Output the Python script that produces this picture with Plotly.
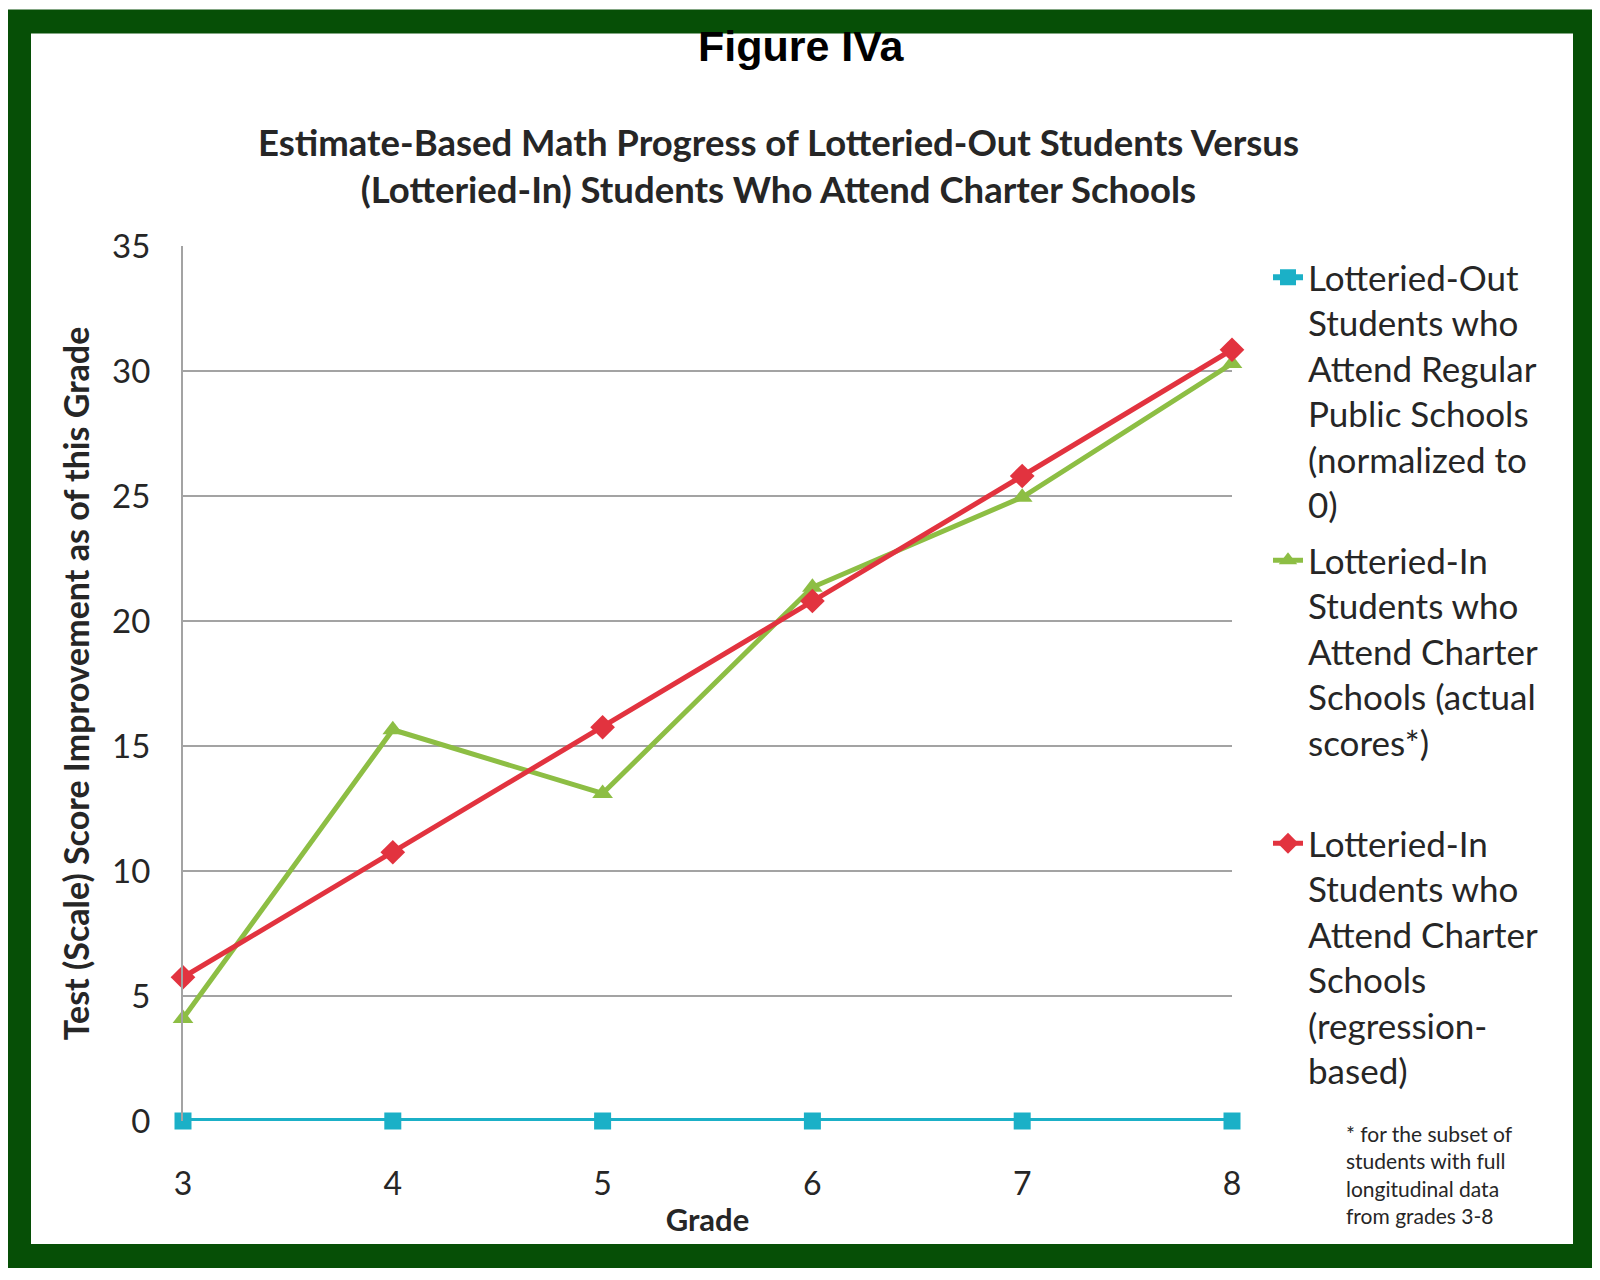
import plotly.graph_objects as go

# ---- data ----
grades = [3, 4, 5, 6, 7, 8]
lottery_out = [0, 0, 0, 0, 0, 0]
lottery_in_actual = [4.1, 15.65, 13.1, 21.35, 24.95, 30.3]
lottery_in_regression = [5.75, 10.75, 15.75, 20.8, 25.8, 30.85]
y_ticks = [0, 5, 10, 15, 20, 25, 30, 35]

names = [
    "Lotteried-Out<br>Students who<br>Attend Regular<br>Public Schools<br>(normalized to<br>0)",
    "Lotteried-In<br>Students who<br>Attend Charter<br>Schools (actual<br>scores*)<br>\u00a0",
    "Lotteried-In<br>Students who<br>Attend Charter<br>Schools<br>(regression-<br>based)",
]

BLUE = "#1BB0C7"
GREEN = "#8DBE44"
RED = "#E2333F"
DARKGREEN = "#064F06"
TXT = "#262626"
CAL = "Lato, 'Open Sans', sans-serif"

OFF = 8  # page body margin
W, H = 1600 - OFF, 1280 - OFF
L, R, T, B = 183 - OFF, 1232 - OFF, 246 - OFF, 1121 - OFF


def px(x):
    x = x - OFF
    return (x - L) / (R - L)


def py(y):
    y = y - OFF
    return (B - y) / (B - T)


fig = go.Figure()
fig.add_trace(go.Scatter(
    x=grades, y=lottery_out, name=names[0], mode="lines+markers",
    line=dict(color=BLUE, width=6),
    marker=dict(symbol="square", size=17, color=BLUE),
    legendgroup="a", cliponaxis=False,
))
fig.add_trace(go.Scatter(
    x=grades, y=lottery_in_actual, name=names[1], mode="lines+markers",
    line=dict(color=GREEN, width=5),
    marker=dict(symbol="triangle-up", size=18, color=GREEN),
    legendgroup="b", cliponaxis=False,
))
fig.add_trace(go.Scatter(
    x=grades, y=lottery_in_regression, name=names[2], mode="lines+markers",
    line=dict(color=RED, width=5),
    marker=dict(symbol="diamond", size=19, color=RED),
    legendgroup="c", cliponaxis=False,
))

fig.update_layout(
    width=W, height=H,
    margin=dict(l=L, r=W - R, t=T, b=H - B, pad=0),
    paper_bgcolor="white", plot_bgcolor="white",
    font=dict(family=CAL, color=TXT),
    showlegend=True,
    legend=dict(
        x=px(1268), y=py(248), xanchor="left", yanchor="top",
        font=dict(family=CAL, size=35, color=TXT),
        valign="top", tracegroupgap=7, bgcolor="rgba(0,0,0,0)",
        itemwidth=30,
    ),
    xaxis=dict(
        range=[3, 8], tickvals=grades, ticktext=[str(g) for g in grades],
        showgrid=False, zeroline=False, showline=False, ticks="",
        tickfont=dict(family=CAL, size=32, color=TXT),
        ticklabelstandoff=41,
        title=dict(text="<b>Grade</b>", font=dict(family=CAL, size=31, color=TXT), standoff=8),
    ),
    yaxis=dict(
        range=[0, 35], tickvals=y_ticks,
        showgrid=True, gridcolor="#A3A3A3", gridwidth=2,
        zeroline=False, showline=True, linecolor="#A3A3A3", linewidth=2,
        ticks="", tickfont=dict(family=CAL, size=33, color=TXT),
        ticklabelstandoff=24,
        title=dict(text="<b>Test (Scale) Score Improvement as of this Grade</b>",
                   font=dict(family=CAL, size=34, color=TXT), standoff=12),
    ),
    shapes=[dict(
        type="rect", xref="paper", yref="paper",
        x0=px(19), x1=px(1585), y0=py(21.5), y1=py(1256),
        line=dict(color=DARKGREEN, width=24), fillcolor="rgba(0,0,0,0)", layer="above",
    )],
    annotations=[
        dict(text="<b>Figure IVa</b>", xref="paper", yref="paper", x=px(801), y=py(46),
             showarrow=False, xanchor="center", yanchor="middle",
             font=dict(family="'Liberation Sans', Arial, sans-serif", size=43, color="black")),
        dict(text="<b>Estimate-Based Math Progress of Lotteried-Out Students Versus<br>(Lotteried-In) Students Who Attend Charter Schools</b>",
             xref="paper", yref="paper", x=px(778), y=py(165),
             showarrow=False, xanchor="center", yanchor="middle", align="center",
             font=dict(family=CAL, size=36.5, color=TXT)),
        dict(text="* for the subset of<br>students with full<br>longitudinal data<br>from grades 3-8",
             xref="paper", yref="paper", x=px(1344), y=py(1174),
             showarrow=False, xanchor="left", yanchor="middle", align="left",
             font=dict(family=CAL, size=21, color=TXT)),
    ],
)

fig.write_html("out.html")
